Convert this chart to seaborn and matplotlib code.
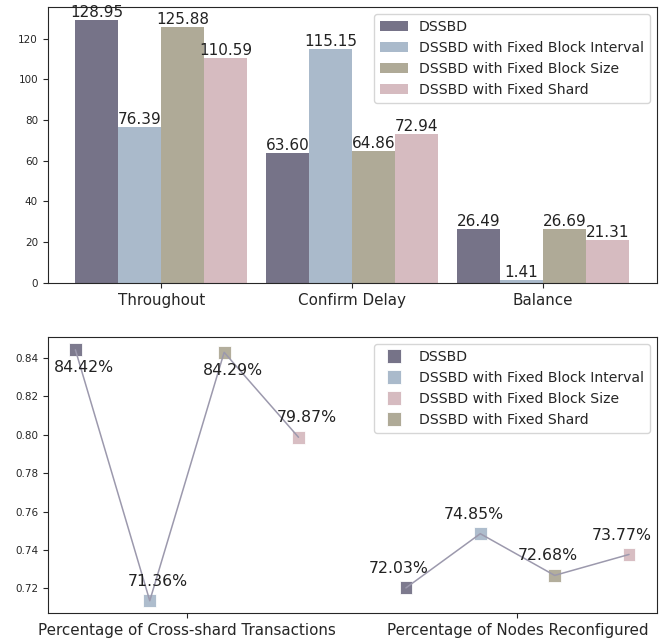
import numpy as np
import pandas as pd
import matplotlib
matplotlib.use("Agg")
import matplotlib.pyplot as plt
from matplotlib.lines import Line2D
import seaborn as sns

# ---- data ----
metrics = ["Throughout", "Confirm Delay", "Balance"]
methods = ["DSSBD", "DSSBD with Fixed Block Interval",
           "DSSBD with Fixed Block Size", "DSSBD with Fixed Shard"]
dssbd = [128.95, 63.60, 26.49]
fixed_interval = [76.39, 115.15, 1.41]
fixed_size = [125.88, 64.86, 26.69]
fixed_shard = [110.59, 72.94, 21.31]

ratio_groups = ["Percentage of Cross-shard Transactions", "Percentage of Nodes Reconfigured"]
cross_shard = [0.8442, 0.7136, 0.8429, 0.7987]
reconfigured = [0.7203, 0.7485, 0.7268, 0.7377]

bar_colors = ["#767388", "#aabacb", "#afaa97", "#d6bbc0"]
line_color = "#9c99ad"

sns.set_style("ticks")
plt.rcParams["font.family"] = ["DejaVu Sans"]

fig = plt.figure(figsize=(6.61, 6.40), dpi=100)
ax1 = fig.add_axes([0.0722, 0.558, 0.9213, 0.4306])
ax2 = fig.add_axes([0.0722, 0.0417, 0.9213, 0.4313])

# ---- top: grouped bars ----
bars = pd.DataFrame({
    "metric": np.repeat(metrics, 4),
    "method": methods * 3,
    "value": [v for trio in zip(dssbd, fixed_interval, fixed_size, fixed_shard) for v in trio],
})
sns.barplot(data=bars, x="metric", y="value", hue="method", hue_order=methods,
            palette=bar_colors, saturation=1, width=0.9, linewidth=0,
            edgecolor="none", ax=ax1)
for cont in ax1.containers:
    ax1.bar_label(cont, fmt="%.2f", fontsize=11, color="#222222", padding=0)
ax1.set_xlim(-0.595, 2.595)
ax1.set_ylim(0, 135.4)
ax1.set_xlabel("")
ax1.set_ylabel("")
ax1.tick_params(axis="x", labelsize=10.9, length=3.5)
ax1.tick_params(axis="y", labelsize=7.5, length=3.5)
ax1.legend(loc="upper right", fontsize=10.1, frameon=True, labelspacing=0.5)

# ---- bottom: ratios per variant ----
offsets = (np.arange(4) - 1.5) * 0.225
pts = pd.DataFrame({
    "group": np.repeat([0, 1], 4),
    "method": methods * 2,
    "pos": np.concatenate([0 + offsets, 1 + offsets]),
    "value": cross_shard + reconfigured,
})
sns.scatterplot(data=pts, x="pos", y="value", hue="method", hue_order=methods,
                palette=bar_colors, marker="s", s=85, edgecolor="white",
                linewidth=0.6, alpha=0.95, legend=False, zorder=2, ax=ax2)
sns.lineplot(data=pts, x="pos", y="value", units="group", estimator=None,
             color=line_color, linewidth=1.1, zorder=3, ax=ax2)

# value labels: (dx, dy) in points
label_offsets = [(6, -13), (6, 14), (6, -13), (6, 14),
                 (-5, 14), (-5, 14), (-5, 14), (-5, 14)]
for (x, y), (dx, dy) in zip(zip(pts["pos"], pts["value"]), label_offsets):
    ax2.annotate(f"{y * 100:.2f}%", (x, y), xytext=(dx, dy), textcoords="offset points",
                 ha="center", va="center", fontsize=11.3, color="#222222", zorder=4)

ax2.set_xticks([0, 1])
ax2.set_xticklabels(ratio_groups)
ax2.set_yticks([0.72, 0.74, 0.76, 0.78, 0.80, 0.82, 0.84])
ax2.set_xlabel("")
ax2.set_ylabel("")
ax2.tick_params(axis="x", labelsize=10.9, length=3.5)
ax2.tick_params(axis="y", labelsize=7.5, length=3.5)

legend_colors = [bar_colors[0], bar_colors[1], bar_colors[3], bar_colors[2]]
handles = [Line2D([], [], linestyle="none", marker="s", markersize=10,
                  markerfacecolor=c, markeredgecolor="white", markeredgewidth=0.6)
           for c in legend_colors]
ax2.legend(handles, methods, loc="upper right", fontsize=10.1, frameon=True,
           labelspacing=0.5)

fig.savefig("out.png", dpi=100)
